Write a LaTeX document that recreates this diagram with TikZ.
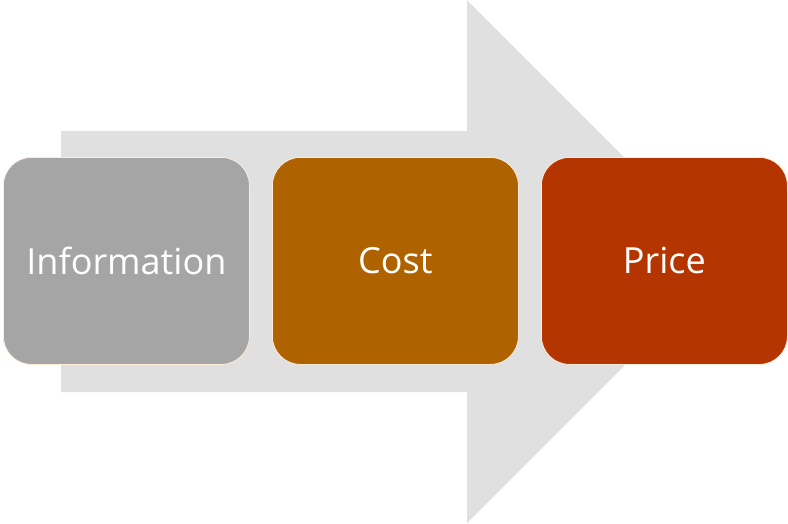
\documentclass[tikz,border=0pt]{standalone}
\usepackage{fontspec}
\setmainfont{Open Sans}
\begin{document}
\begin{tikzpicture}[x=1pt,y=-1pt,
  stagebox/.style={draw=white!85!orange, line width=0.8pt, rounded corners=28pt, text=white, font=\fontsize{36}{44}\selectfont},
]
\definecolor{arrowgray}{HTML}{E0E0E0}
\definecolor{infogray}{HTML}{A5A5A5}
\definecolor{costorange}{HTML}{AE6200}
\definecolor{pricered}{HTML}{B43500}
\useasboundingbox (0,0) rectangle (788,523);
\fill[arrowgray] (61,131) -- (467,131) -- (467,0) -- (728.5,261.5) -- (467,523) -- (467,392) -- (61,392) -- cycle;
\node[stagebox, fill=infogray, minimum width=246pt, minimum height=207pt, anchor=north west] (info) at (3,157) {Information};
\node[stagebox, fill=costorange, minimum width=246pt, minimum height=207pt, anchor=north west] (cost) at (272,157) {Cost};
\node[stagebox, fill=pricered, minimum width=246pt, minimum height=207pt, anchor=north west] (price) at (541,157) {Price};
\end{tikzpicture}
\end{document}
